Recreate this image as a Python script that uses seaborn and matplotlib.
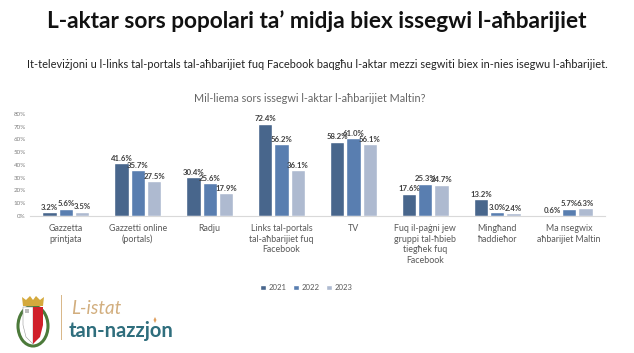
import matplotlib
matplotlib.use("Agg")
import matplotlib.pyplot as plt
import matplotlib.patches as mpatches
import seaborn as sns
import pandas as pd

categories = [
    "Gazzetta\nprintjata",
    "Gazzetti online\n(portals)",
    "Radju",
    "Links tal-portals\ntal-aħbarijiet fuq\nFacebook",
    "TV",
    "Fuq il-paġni jew\ngruppi tal-ħbieb\ntiegħek fuq\nFacebook",
    "Mingħand\nħaddieħor",
    "Ma nsegwix\naħbarijiet Maltin",
]
years = ["2021", "2022", "2023"]
values_2021 = [3.2, 41.6, 30.4, 72.4, 58.2, 17.6, 13.2, 0.6]
values_2022 = [5.6, 35.7, 25.6, 56.2, 61.0, 25.3, 3.0, 5.7]
values_2023 = [3.5, 27.5, 17.9, 36.1, 56.1, 24.7, 2.4, 6.3]
y_ticks = [0, 10, 20, 30, 40, 50, 60, 70, 80]

colors = ["#3D6497", "#4A7CBF", "#A8B8D6"]

rows = []
for y, vals in zip(years, [values_2021, values_2022, values_2023]):
    for c, v in zip(categories, vals):
        rows.append({"cat": c, "year": y, "val": v})
df = pd.DataFrame(rows)

sns.set_theme(style="white")
plt.rcParams["font.family"] = ["Lato", "DejaVu Sans"]

fig = plt.figure(figsize=(6.34, 3.53), dpi=100)
fig.patch.set_facecolor("white")
W, H = 634, 353

def fx(x):
    return x / W

def fy(y):
    return 1 - y / H

ax = fig.add_axes([fx(30), fy(216), fx(605) - fx(30), fy(114) - fy(216)])
sns.barplot(data=df, x="cat", y="val", hue="year", palette=colors,
            width=0.68, gap=0.12, ax=ax, legend=True)
ax.set_ylim(0, 80)
ax.set_yticks(y_ticks)
ax.set_yticklabels([f"{t}%" for t in y_ticks], fontsize=4.5, color="#808080")
ax.tick_params(axis="x", labelsize=6.4, colors="#595959", length=0, pad=6)
ax.tick_params(axis="y", length=0, pad=3)
ax.set_xlabel("")
ax.set_ylabel("")
for s in ["top", "right", "left"]:
    ax.spines[s].set_visible(False)
ax.spines["bottom"].set_color("#D9D9D9")
ax.spines["bottom"].set_linewidth(0.8)
ax.set_xlim(-0.5, len(categories) - 0.5)

for cont in ax.containers:
    ax.bar_label(cont, labels=[f"{v:.1f}%" for v in cont.datavalues],
                 fontsize=5.6, fontweight="bold", color="#404040", padding=1)

leg = ax.legend(loc="upper center", bbox_to_anchor=(0.48, -0.6), ncol=3,
                frameon=False, fontsize=5.6, handlelength=0.8, handleheight=0.8,
                handletextpad=0.3, columnspacing=0.8)
for t in leg.get_texts():
    t.set_color("#595959")

fig.text(0.5, fy(21), "L-aktar sors popolari ta’ midja biex issegwi l-aħbarijiet",
         ha="center", va="center", fontsize=16.3, fontweight="bold", color="#111111")
fig.text(0.5, fy(65),
         "It-televiżjoni u l-links tal-portals tal-aħbarijiet fuq Facebook baqgħu l-aktar mezzi segwiti biex in-nies isegwu l-aħbarijiet.",
         ha="center", va="center", fontsize=7.9, color="#222222")
fig.text(fx(310), fy(98), "Mil-liema sors issegwi l-aktar l-aħbarijiet Maltin?",
         ha="center", va="center", fontsize=7.8, color="#666666")

# Logo
fig.add_artist(mpatches.Rectangle((fx(60.5), fy(340)), 1.2 / W, 45 / H,
                                  transform=fig.transFigure, color="#D9B88A", lw=0))
fig.text(fx(71), fy(309), "L-istat", ha="left", va="center", fontsize=13.5,
         style="italic", color="#D2AE7E")
fig.text(fx(69), fy(331), "tan-nazzjon", ha="left", va="center", fontsize=14.5,
         fontweight="bold", color="#2F6E7D")
fig.add_artist(mpatches.Polygon([(fx(155), fy(317)), (fx(156.5), fy(320)),
                                 (fx(155), fy(323)), (fx(153.5), fy(320))],
                                transform=fig.transFigure, color="#E0A060", lw=0))
# crest: wreath, shield halves, crown
fig.add_artist(mpatches.Ellipse((fx(33), fy(326)), 30 / W, 40 / H,
                                transform=fig.transFigure, facecolor="none",
                                edgecolor="#4C7A3A", lw=2.2))
fig.add_artist(mpatches.Polygon([(fx(23), fy(307)), (fx(33), fy(307)), (fx(33), fy(344)),
                                 (fx(26), fy(337)), (fx(23), fy(325))],
                                transform=fig.transFigure, facecolor="white",
                                edgecolor="#999999", lw=0.4))
fig.add_artist(mpatches.Polygon([(fx(33), fy(307)), (fx(43), fy(307)), (fx(43), fy(325)),
                                 (fx(40), fy(337)), (fx(33), fy(344))],
                                transform=fig.transFigure, facecolor="#D0202A", lw=0))
fig.add_artist(mpatches.Rectangle((fx(25), fy(313)), 4 / W, 4 / H,
                                  transform=fig.transFigure, facecolor="#BBBBBB", lw=0))
fig.add_artist(mpatches.Polygon([(fx(23), fy(306)), (fx(43), fy(306)), (fx(44), fy(297)),
                                 (fx(40), fy(300)), (fx(36), fy(296)), (fx(33), fy(300)),
                                 (fx(30), fy(296)), (fx(26), fy(300)), (fx(22), fy(297))],
                                transform=fig.transFigure, facecolor="#D4A93C", lw=0))

fig.savefig("out.png", dpi=100, facecolor="white")
